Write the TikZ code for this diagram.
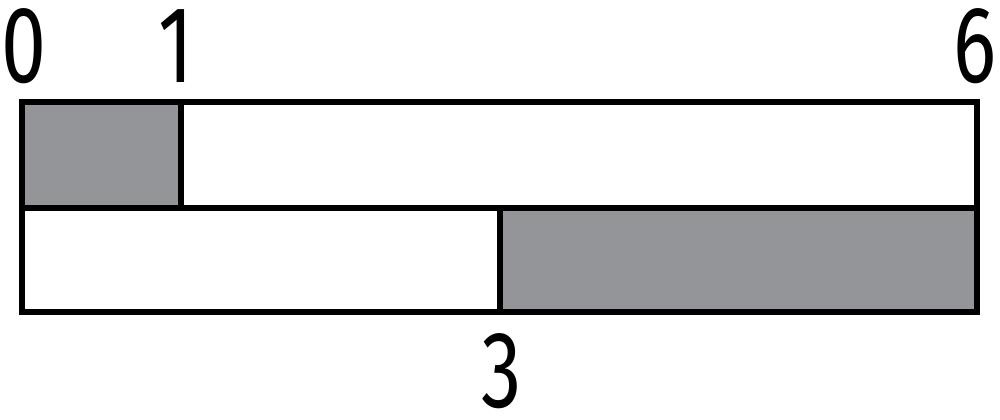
\documentclass[tikz,border=0pt]{standalone}
\usepackage{fontspec}
\setmainfont{Fira Sans}
\usepackage{tikz}
\usepackage{xcolor}
\definecolor{cellgray}{RGB}{148,149,153}
\tikzset{
    bar-line/.style = {draw=black, line width=3.2pt},
    shaded-cell/.style = {fill=cellgray},
    tick-label/.style = {inner sep=0pt, anchor=base, xscale=0.74, font=\fontsize{62}{62}\selectfont},
}

\begin{document}
\begin{tikzpicture}[x=0.02cm, y=-0.02cm]
\useasboundingbox (0,0) rectangle (1000,419);
\coordinate (top-left) at (22,102);
\coordinate (mid-left) at (22,208);
\coordinate (mid-one) at (181,208);
\coordinate (mid-three) at (500,208);
\coordinate (mid-right) at (977,208);
\coordinate (bottom-right) at (977,312);
\coordinate (top-one) at (181,102);
\coordinate (bottom-three) at (500,312);
% shaded parts
\fill[shaded-cell] (top-left) rectangle (mid-one);
\fill[shaded-cell] (mid-three) rectangle (bottom-right);
% outline and dividers
\draw[bar-line] (top-left) rectangle (bottom-right);
\draw[bar-line] (mid-left) -- (mid-right);
\draw[bar-line] (top-one) -- (mid-one);
\draw[bar-line] (mid-three) -- (bottom-three);
% labels
\node[tick-label] (label-zero) at (24,82) {0};
\node[tick-label] (label-one) at (176,82) {1};
\node[tick-label] (label-six) at (975,82) {6};
\node[tick-label] (label-three) at (502,407) {3};
\end{tikzpicture}
\end{document}
